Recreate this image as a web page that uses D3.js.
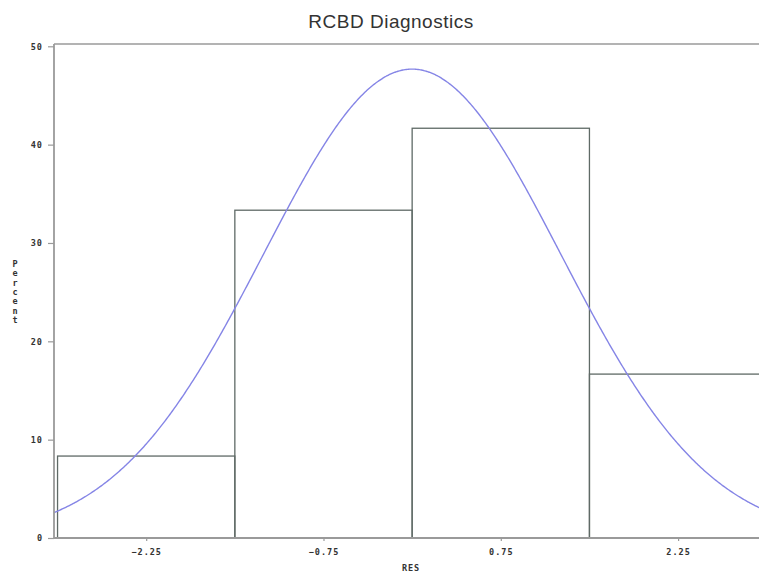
<!DOCTYPE html>
<html>
<head>
<meta charset="utf-8">
<script src="https://cdn.jsdelivr.net/npm/d3@7"></script>
<style>
  html, body { margin: 0; padding: 0; background: #fff; }
  svg { display: block; }
</style>
</head>
<body>
<svg id="chart" width="759" height="575"></svg>
<script>
// Histogram of residuals (percent of observations per bin)
const binEdges = [-3, -1.5, 0, 1.5, 3];
const binPercents = [8.333, 33.333, 41.667, 16.667];
// Fitted normal density parameters
const normalMean = 0;
const normalSigma = 1.255;
const xTickValues = [-2.25, -0.75, 0.75, 2.25];
const yTickValues = [0, 10, 20, 30, 40, 50];
const titleText = "RCBD Diagnostics";
const xLabel = "RES";
const yLabel = "Percent";

const svg = d3.select("#chart");
const plotLeft = 54, plotTop = 44, plotBottom = 538;
const pxPerUnit = 118.2;

const x = d3.scaleLinear()
  .domain([-3.03, 3.1])
  .range([plotLeft, plotLeft + 6.13 * pxPerUnit]);
const y = d3.scaleLinear()
  .domain([0, 50])
  .range([plotBottom, 46.3]);

const frameColor = "#9a9a9a";
const barColor = "#5f6a66";
const textColor = "#333";
const smallFont = "DejaVu Sans Mono, monospace";

// Title
svg.append("text")
  .attr("x", 391).attr("y", 28)
  .attr("text-anchor", "middle")
  .attr("font-family", "Liberation Sans, Arial, sans-serif")
  .attr("font-size", 19)
  .attr("letter-spacing", 0.5)
  .attr("fill", "#333")
  .text(titleText);

// Bars
const bins = binPercents.map((v, i) => ({ x0: binEdges[i], x1: binEdges[i + 1], v }));
svg.append("g").selectAll("rect").data(bins).join("rect")
  .attr("x", d => x(d.x0))
  .attr("y", d => y(d.v))
  .attr("width", d => x(d.x1) - x(d.x0))
  .attr("height", d => y(0) - y(d.v))
  .attr("fill", "none")
  .attr("stroke", barColor)
  .attr("stroke-width", 1.3);

// Normal curve scaled to percent per bin
const binWidth = binEdges[1] - binEdges[0];
const curveX = d3.range(-3.03, 3.1, 0.01);
const curve = curveX.map(v => ({
  x: v,
  y: 100 * binWidth * Math.exp(-0.5 * ((v - normalMean) / normalSigma) ** 2) / (normalSigma * Math.sqrt(2 * Math.PI))
}));
svg.append("path")
  .datum(curve)
  .attr("fill", "none")
  .attr("stroke", "#8585e6")
  .attr("stroke-width", 1.4)
  .attr("d", d3.line().x(d => x(d.x)).y(d => y(d.y)).curve(d3.curveBasis));

// Frame: top line, left axis, bottom axis
svg.append("line").attr("x1", plotLeft).attr("x2", 759).attr("y1", plotTop).attr("y2", plotTop)
  .attr("stroke", frameColor).attr("stroke-width", 1.6);

const yAxis = svg.append("g")
  .attr("transform", `translate(${plotLeft},0)`)
  .call(d3.axisLeft(y).tickValues(yTickValues).tickSize(6).tickPadding(5).tickFormat(d3.format("d")));
yAxis.select(".domain").attr("d", `M0,${plotTop}V${plotBottom}`).attr("stroke", frameColor).attr("stroke-width", 1.8);

const xAxis = svg.append("g")
  .attr("transform", `translate(0,${plotBottom})`)
  .call(d3.axisBottom(x).tickValues(xTickValues).tickSize(3).tickPadding(8).tickFormat(d3.format(".2f")));
xAxis.select(".domain").attr("d", `M${plotLeft},0H759`).attr("stroke", frameColor).attr("stroke-width", 1.8);

[yAxis, xAxis].forEach(g => {
  g.selectAll(".tick line").attr("stroke", frameColor).attr("stroke-width", 1.2);
  g.selectAll(".tick text")
    .attr("fill", textColor)
    .attr("font-family", smallFont)
    .attr("font-weight", "bold")
    .attr("font-size", 8.5)
    .attr("letter-spacing", 1);
});

// Axis labels
svg.append("text")
  .attr("x", 411).attr("y", 571)
  .attr("text-anchor", "middle")
  .attr("font-family", smallFont)
  .attr("font-weight", "bold")
  .attr("font-size", 8.5)
  .attr("letter-spacing", 0.8)
  .attr("fill", textColor)
  .text(xLabel);

// Stacked vertical y label
const yl = svg.append("text")
  .attr("font-family", smallFont)
  .attr("font-weight", "bold")
  .attr("font-size", 8.5)
  .attr("fill", textColor)
  .attr("text-anchor", "middle");
yl.selectAll("tspan").data(yLabel.split("")).join("tspan")
  .attr("x", 15)
  .attr("y", (d, i) => 267 + i * 9.3)
  .text(d => d);
</script>
</body>
</html>
